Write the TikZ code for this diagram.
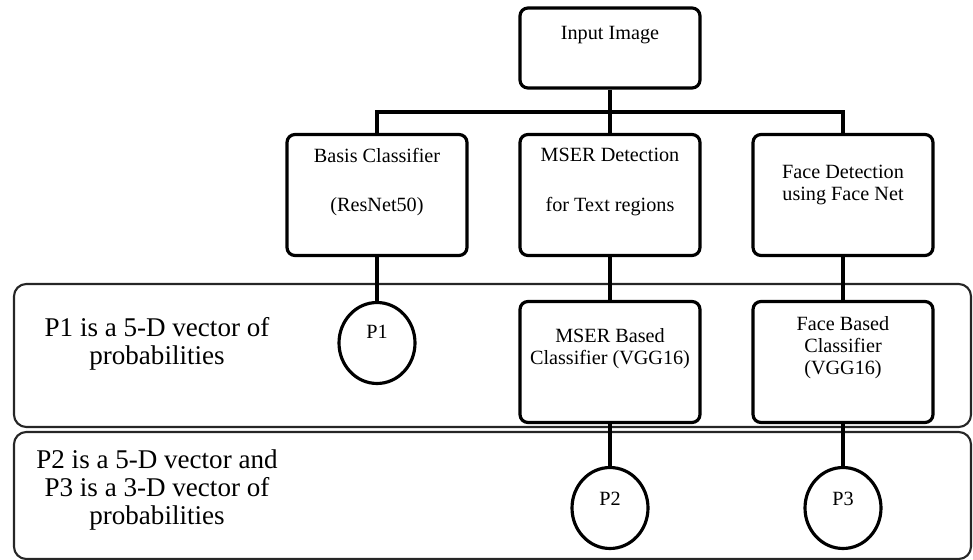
\documentclass[tikz,border=0pt]{standalone}
\usepackage{fontspec}
\setmainfont{Liberation Serif}
\usetikzlibrary{shapes.geometric}

\tikzset{
    popis/.style={align=center, font=\fontsize{11.5}{12.5}\selectfont, yshift=0.26cm},
    blok/.style={draw, line width=1.8pt, rounded corners=4.5pt, fill=white,
        minimum width=3.6cm, minimum height=2.42cm},
    kruh/.style={draw, ellipse, line width=1.8pt, fill=white,
        minimum width=1.52cm, minimum height=1.62cm},
    panel/.style={draw=black!85, line width=1.2pt, rounded corners=7pt},
    poznamka/.style={align=center, font=\fontsize{15.4}{15.9}\selectfont},
    spoj/.style={line width=1.8pt}
}

\begin{document}
\begin{tikzpicture}[x=0.02cm, y=-0.02cm]
        \useasboundingbox (0,0) rectangle (973,560);

        % pasy
        \draw[panel] (14,284) rectangle (971,427);
        \draw[panel] (14,432) rectangle (971,559);

        \node[poznamka] (pozn1) at (157,344) {P1 is a 5-D vector of\\probabilities};
        \node[poznamka] (pozn2) at (157,490) {P2 is a 5-D vector and\\P3 is a 3-D vector of\\probabilities};

        % bloky
        \node[blok, minimum height=1.6cm, label={[popis]center:Input Image}] (vstup) at (610,48) {};
        \node[blok, label={[popis]center:Basis Classifier\\[15.9pt](ResNet50)}] (zaklad) at (377,195) {};
        \node[blok, label={[popis]center:MSER Detection\\[15.9pt]for Text regions}] (mser) at (610,195) {};
        \node[blok, label={[popis, yshift=-0.06cm]center:Face Detection\\using Face Net}] (tvar) at (843,195) {};
        \node[blok, label={[popis]center:MSER Based\\Classifier (VGG16)}] (mserklas) at (610,362) {};
        \node[blok, label={[popis, yshift=0.02cm]center:Face Based\\Classifier\\(VGG16)}] (tvarklas) at (843,362) {};

        % vystupy
        \node[kruh, label={[popis, yshift=-0.04cm]center:P1}] (p1) at (377,343) {};
        \node[kruh, label={[popis, yshift=-0.08cm]center:P2}] (p2) at (610,508) {};
        \node[kruh, label={[popis, yshift=-0.08cm]center:P3}] (p3) at (843,508) {};

        % spoje
        \coordinate (rozv) at (610,112);
        \draw[spoj] (vstup.south) -- (rozv);
        \draw[spoj] (zaklad.north) |- (rozv) -| (tvar.north);
        \draw[spoj] (rozv) -- (mser.north);
        \draw[spoj] (zaklad.south) -- (p1.north);
        \draw[spoj] (mser.south) -- (mserklas.north);
        \draw[spoj] (tvar.south) -- (tvarklas.north);
        \draw[spoj] (mserklas.south) -- (p2.north);
        \draw[spoj] (tvarklas.south) -- (p3.north);

    \end{tikzpicture}
\end{document}
